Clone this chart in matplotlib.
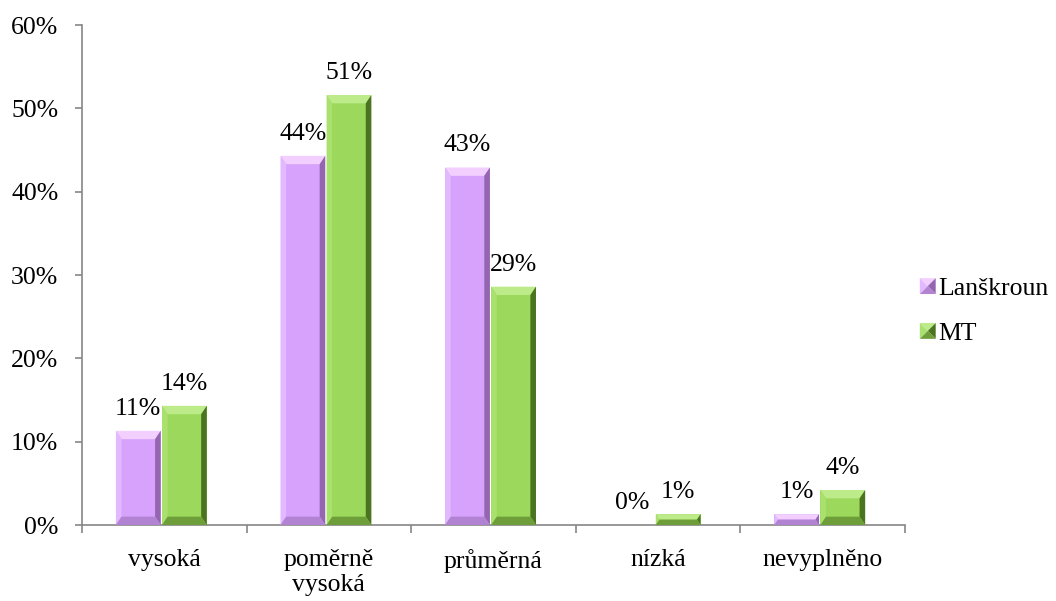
import matplotlib
matplotlib.use("Agg")
import matplotlib.pyplot as plt
from matplotlib.patches import Polygon, Rectangle
from matplotlib.legend_handler import HandlerBase
import numpy as np

categories = ["vysoká", "poměrně\nvysoká", "průměrná", "nízká", "nevyplněno"]
series_names = ["Lanškroun", "MT"]
lanskroun = [11.3, 44.3, 42.9, 0.0, 1.3]
mt = [14.3, 51.6, 28.6, 1.3, 4.2]
label_l = ["11%", "44%", "43%", "0%", "1%"]
label_m = ["14%", "51%", "29%", "1%", "4%"]
yticks = [0, 10, 20, 30, 40, 50, 60]

# colour sets: main, top, left, right, bottom
purple = dict(main="#D7A2FC", top="#F3CFFF", left="#E2B8FF", right="#9566B0", bottom="#B283D2")
green = dict(main="#9BD85C", top="#BDEB8A", left="#A9E06E", right="#4A7420", bottom="#6E9E3A")

plt.rcParams['font.family'] = ['Liberation Serif', 'DejaVu Serif']
FS = 18.5

fig = plt.figure(figsize=(10.56, 6.01), dpi=100)
ax = fig.add_axes([82/1056, 1-525/601, (905-82)/1056, 500/601])

x = np.arange(len(categories))
w = 0.272
gap = 0.008
shift = -0.018


def bevel_bar(xc, h, cs):
    if h <= 0:
        return
    x0, x1 = xc - w/2, xc + w/2
    dx = 0.034
    dy = min(1.0, h/2)
    dxx = dx if h >= 2 else dx * h / 2
    ax.add_patch(Rectangle((x0, 0), w, h, facecolor=cs["main"], edgecolor="none", zorder=2))
    ix0, ix1, iy0, iy1 = x0 + dxx, x1 - dxx, dy, h - dy
    ax.add_patch(Polygon([(x0, h), (x1, h), (ix1, iy1), (ix0, iy1)], closed=True,
                         facecolor=cs["top"], edgecolor="none", zorder=3))
    ax.add_patch(Polygon([(x0, 0), (x0, h), (ix0, iy1), (ix0, iy0)], closed=True,
                         facecolor=cs["left"], edgecolor="none", zorder=3))
    ax.add_patch(Polygon([(x1, 0), (x1, h), (ix1, iy1), (ix1, iy0)], closed=True,
                         facecolor=cs["right"], edgecolor="none", zorder=3))
    ax.add_patch(Polygon([(x0, 0), (x1, 0), (ix1, iy0), (ix0, iy0)], closed=True,
                         facecolor=cs["bottom"], edgecolor="none", zorder=3))


for i in range(len(categories)):
    xl = x[i] + shift - w/2 - gap/2
    xm = x[i] + shift + w/2 + gap/2
    bevel_bar(xl, lanskroun[i], purple)
    bevel_bar(xm, mt[i], green)
    ax.annotate(label_l[i], (xl, lanskroun[i]), xytext=(0, 8), textcoords="offset points",
                ha="center", va="bottom", fontsize=FS, zorder=5)
    ax.annotate(label_m[i], (xm, mt[i]), xytext=(0, 8), textcoords="offset points",
                ha="center", va="bottom", fontsize=FS, zorder=5)

ax.set_xlim(-0.5, len(categories) - 0.5)
ax.set_ylim(0, 60)
ax.set_yticks(yticks)
ax.set_yticklabels([f"{t}%" for t in yticks], fontsize=FS)
ax.set_xticks(np.arange(len(categories) + 1) - 0.5)
ax.set_xticklabels([""] * (len(categories) + 1))
ax.tick_params(axis="x", length=6, width=1.2, color="#868686", direction="out")
ax.tick_params(axis="y", length=5, width=1.2, color="#868686", direction="out", pad=12)
for i, c in enumerate(categories):
    ax.annotate(c, (x[i], 0), xytext=(0, -17), textcoords="offset points",
                ha="center", va="top", fontsize=FS, linespacing=1.2)

for s in ["top", "right"]:
    ax.spines[s].set_visible(False)
for s in ["left", "bottom"]:
    ax.spines[s].set_color("#868686")
    ax.spines[s].set_linewidth(1.2)


class PyramidHandler(HandlerBase):
    def __init__(self, cs):
        super().__init__()
        self.cs = cs

    def create_artists(self, legend, orig_handle, xdescent, ydescent, width, height, fontsize, trans):
        s = min(width, height) * 0.95
        x0 = width - s - xdescent
        y0 = -ydescent + (height - s) / 2
        x1, y1 = x0 + s, y0 + s
        cx, cy = (x0 + x1) / 2, (y0 + y1) / 2
        cs = self.cs
        arts = [
            Polygon([(x0, y1), (x1, y1), (cx, cy)], facecolor=cs["top"], edgecolor="none"),
            Polygon([(x0, y0), (x0, y1), (cx, cy)], facecolor=cs["left"], edgecolor="none"),
            Polygon([(x1, y0), (x1, y1), (cx, cy)], facecolor=cs["right"], edgecolor="none"),
            Polygon([(x0, y0), (x1, y0), (cx, cy)], facecolor=cs["bottom"], edgecolor="none"),
        ]
        for a in arts:
            a.set_transform(trans)
        return arts


hl = Rectangle((0, 0), 1, 1)
hm = Rectangle((0, 0), 1, 1)
fig.legend([hl, hm], series_names, loc="center left", bbox_to_anchor=(919/1056, 1-311/601),
           frameon=False, fontsize=FS, handlelength=0.65, handletextpad=0.1,
           labelspacing=0.85, borderaxespad=0, borderpad=0,
           handler_map={hl: PyramidHandler(purple), hm: PyramidHandler(green)})

fig.savefig("out.png", dpi=100)
